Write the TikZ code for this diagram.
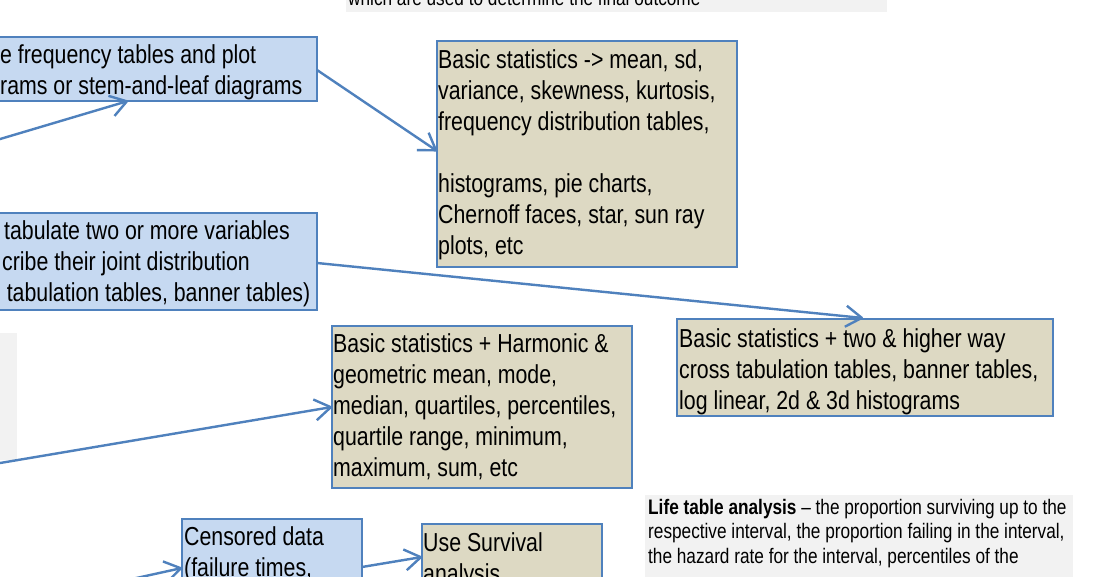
\documentclass[tikz,border=0pt]{standalone}
\usepackage{fontspec}
\setmainfont{Liberation Sans}[FakeStretch=0.82]
\usetikzlibrary{arrows.meta,calc}
\definecolor{boxline}{HTML}{4F81BD}
\definecolor{bluefill}{HTML}{C6D9F1}
\definecolor{tanfill}{HTML}{DDD9C3}
\definecolor{notegray}{HTML}{F2F2F2}

\begin{document}
\begin{tikzpicture}[x=1pt,y=-1pt,
  box/.style={draw=boxline, line width=2.6pt, anchor=north west, inner sep=0pt, outer sep=0pt},
  bluebox/.style={box, fill=bluefill},
  tanbox/.style={box, fill=tanfill},
  note/.style={fill=notegray, anchor=north west, inner sep=0pt, outer sep=0pt},
  big/.style={anchor=north west, inner sep=0pt, align=left,
    font=\fontsize{26}{31}\selectfont, execute at begin node=\rule{0pt}{19pt}},
  small/.style={anchor=north west, inner sep=0pt, align=left,
    font=\fontsize{21}{24.5}\selectfont, execute at begin node=\rule{0pt}{15pt}},
  link/.style={draw=boxline, line width=2.4pt, line join=round,
    -{Straight Barb[length=16pt,width=21pt,line join=round]}}
]
\useasboundingbox (0,0) rectangle (1107,577);
\fill[white] (0,0) rectangle (1107,577);
\clip (0,0) rectangle (1107,577);

% grey note panels
\node[note, minimum width=541pt, minimum height=30pt] (topnote) at (346,-18) {};
\node[small] (topnotetext) at (348,-10) {which are used to determine the final outcome};
\node[note, minimum width=40pt, minimum height=127pt] (leftnote) at (-23,333) {};
\node[note, minimum width=428pt, minimum height=100pt] (lifenote) at (645,495) {};
\node[small] (lifetext) at (648,499)
  {\textbf{Life table analysis} -- the proportion surviving up to the\\
   respective interval, the proportion failing in the interval,\\
   the hazard rate for the interval, percentiles of the};

% method boxes (blue)
\node[bluebox, minimum width=517pt, minimum height=64pt] (freq) at (-200,37) {};
\node[big] (freqtext) at (0,44)
  {e frequency tables and plot\\rams or stem-and-leaf diagrams};

\node[bluebox, minimum width=517pt, minimum height=97pt] (cross) at (-200,213) {};
\node[big] (crosstext) at (-10,220)
  {\hspace*{14pt}tabulate two or more variables\\
   \hspace*{12pt}cribe their joint distribution\\
   s tabulation tables, banner tables)};

\node[bluebox, minimum width=180pt, minimum height=100pt] (cens) at (182,519) {};
\node[big] (censtext) at (184,526) {Censored data\\(failure times,};

% result boxes (tan)
\node[tanbox, minimum width=300pt, minimum height=226pt] (stats1) at (437,41) {};
\node[big] (stats1text) at (438,49)
  {Basic statistics -> mean, sd,\\
   variance, skewness, kurtosis,\\
   frequency distribution tables,\\[31pt]
   histograms, pie charts,\\
   Chernoff faces, star, sun ray\\
   plots, etc};

\node[tanbox, minimum width=300pt, minimum height=162pt] (stats2) at (332,326) {};
\node[big] (stats2text) at (333,333)
  {Basic statistics + Harmonic \&\\
   geometric mean, mode,\\
   median, quartiles, percentiles,\\
   quartile range, minimum,\\
   maximum, sum, etc};

\node[tanbox, minimum width=376pt, minimum height=97pt] (stats3) at (677,319) {};
\node[big] (stats3text) at (679,328)
  {Basic statistics + two \& higher way\\
   cross tabulation tables, banner tables,\\
   log linear, 2d \& 3d histograms};

\node[tanbox, minimum width=180pt, minimum height=100pt] (surv) at (422,524) {};
\node[big] (survtext) at (423,532) {Use Survival\\analysis};

% connectors
\coordinate (inA) at (-20,145);
\coordinate (inD) at (-20,466.4);
\coordinate (inE) at (100,586);
\draw[link] (inA) -- ($(freq.south west)+(328,0)$);
\draw[link] ($(freq.north east)+(0,33)$) -- ($(stats1.north west)+(0,110)$);
\draw[link] ($(cross.north east)+(0,50)$) -- ($(stats3.north west)+(186,-1)$);
\draw[link] (inD) -- ($(stats2.north west)+(0,81)$);
\draw[link] (inE) -- ($(cens.north west)+(0,49)$);
\draw[link] ($(cens.north east)+(0,48)$) -- ($(surv.north west)+(0,33)$);
\end{tikzpicture}
\end{document}
